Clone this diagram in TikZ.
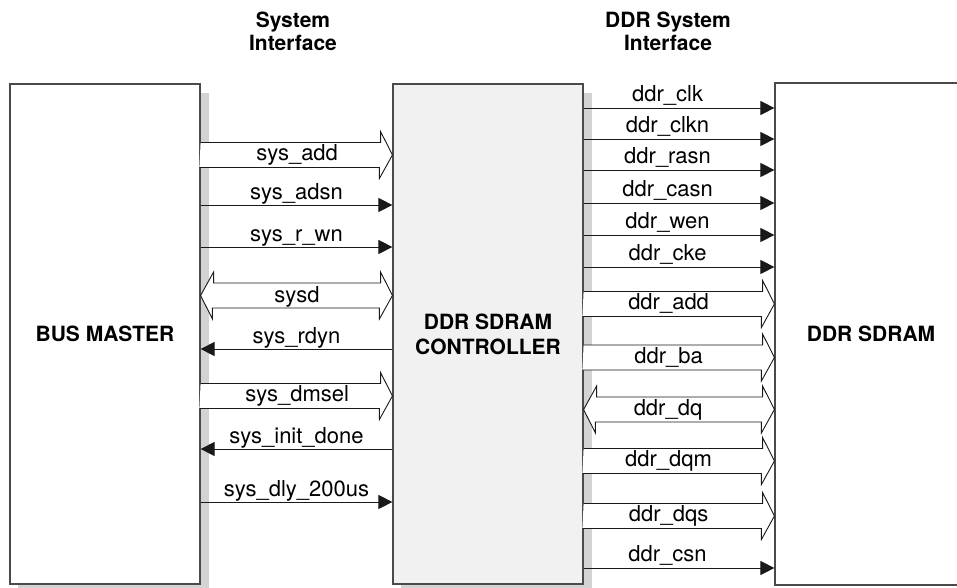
\documentclass[tikz,border=0pt]{standalone}
\usepackage{fontspec}
\setmainfont{TeX Gyre Heros}
\usetikzlibrary{arrows.meta}

\definecolor{shadowgray}{HTML}{D3D3D3}
\definecolor{ctrlgray}{HTML}{F1F1F1}
\definecolor{edgegray}{HTML}{4A4A4A}

\tikzset{
  blockbox/.style={draw=edgegray, line width=1.2pt, minimum width=190pt, minimum height=500pt,
    inner sep=0pt, align=center, font=\fontsize{21}{25}\selectfont\bfseries},
  sig/.style={draw=black!90, line width=0.9pt, -{Triangle[length=14pt,width=14pt]}},
  bus/.style={draw=black!90, fill=white, line width=0.9pt, line join=miter},
  siglabel/.style={anchor=base, inner sep=0pt, font=\fontsize{22}{26}\selectfont},
  header/.style={align=center, font=\fontsize{21}{23}\selectfont\bfseries}
}

\begin{document}
\begin{tikzpicture}[x=1pt,y=-1pt]
\useasboundingbox (0,0) rectangle (957,588);
\clip (0,0) rectangle (957,588);

%draws the shadows behind the two left blocks
\fill[shadowgray] (18,93) rectangle (209,592);
\fill[shadowgray] (401,93) rectangle (592,592);

%draws the three blocks
\node[blockbox, fill=white] (master) at (105,334) {BUS MASTER};
\node[blockbox, fill=ctrlgray] (ctrl) at (488,334) {DDR SDRAM\\CONTROLLER};
\node[blockbox, fill=white, minimum width=192pt, minimum height=502pt] (sdram) at (871,334) {DDR SDRAM};

%interface headers
\node[header] (sysif) at (293,31.5) {System\\Interface};
\node[header] (ddrif) at (668,31.5) {DDR System\\Interface};

%system interface: single lines
\foreach \y/\name in {205/sys\_adsn, 247/sys\_r\_wn, 502/sys\_dly\_200us}
  \draw[sig] (master.east |- 0,\y) -- node[siglabel, yshift=6pt] {\name} (ctrl.west |- 0,\y);
\foreach \y/\name in {349/sys\_rdyn, 449/sys\_init\_done}
  \draw[sig] (ctrl.west |- 0,\y) -- node[siglabel, yshift=6pt] {\name} (master.east |- 0,\y);

%system interface: buses
\foreach \y/\name in {155/sys\_add, 396/sys\_dmsel}
  \draw[bus] (master.east |- 0,\y) ++(0,-12.5) -- ++(180,0) -- ++(0,-11) -- (ctrl.west |- 0,\y)
    -- ++(-13,23.5) -- ++(0,-11) -- ++(-180,0)
    (master.east |- 0,\y) ++(96.5,5.5) node[siglabel] {\name};
\draw[bus] (master.east |- 0,295.5) -- ++(13,-23.5) -- ++(0,11) -- ++(167,0) -- ++(0,-11)
  -- (ctrl.west |- 0,295.5) -- ++(-13,23.5) -- ++(0,-11) -- ++(-167,0) -- ++(0,11) -- cycle;
\node[siglabel] (sysd) at (297,302) {sysd};

%ddr interface: single lines
\foreach \y/\name in {108/ddr\_clk, 139/ddr\_clkn, 170/ddr\_rasn, 203/ddr\_casn, 235/ddr\_wen, 267/ddr\_cke, 568/ddr\_csn}
  \draw[sig] (ctrl.east |- 0,\y) -- node[siglabel, pos=0.44, yshift=6.5pt] {\name} (sdram.west |- 0,\y);

%ddr interface: buses
\foreach \y/\name in {304/ddr\_add, 357.5/ddr\_ba, 461/ddr\_dqm, 516/ddr\_dqs}
  \draw[bus] (ctrl.east |- 0,\y) ++(0,-12.5) -- ++(179,0) -- ++(0,-11) -- (sdram.west |- 0,\y)
    -- ++(-13,23.5) -- ++(0,-11) -- ++(-179,0)
    (ctrl.east |- 0,\y) ++(85,5.5) node[siglabel] {\name};
\draw[bus] (ctrl.east |- 0,409.5) -- ++(13,-23.5) -- ++(0,11) -- ++(166,0) -- ++(0,-11)
  -- (sdram.west |- 0,409.5) -- ++(-13,23.5) -- ++(0,-11) -- ++(-166,0) -- ++(0,11) -- cycle;
\node[siglabel] (ddrdq) at (668,415.5) {ddr\_dq};

\end{tikzpicture}
\end{document}
